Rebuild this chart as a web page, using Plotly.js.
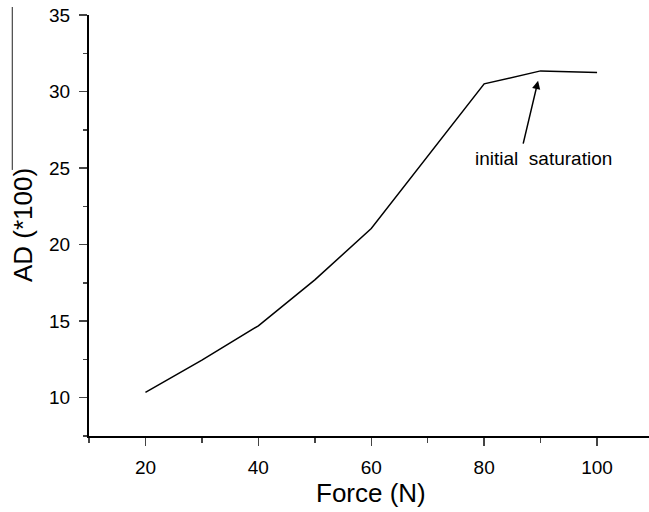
<!DOCTYPE html>
<html><head><meta charset="utf-8">
<script src="https://cdn.plot.ly/plotly-3.0.1.min.js"></script>
<style>html,body{margin:0;padding:0;background:#fff}</style>
</head><body>
<div id="chart" style="width:649px;height:512px"></div>
<script>
var force = [20, 30, 40, 50, 60, 70, 80, 90, 100];
var ad = [10.35, 12.45, 14.7, 17.7, 21.05, 25.8, 30.5, 31.35, 31.25];
var xTicks = [20, 40, 60, 80, 100];
var yTicks = [10, 15, 20, 25, 30, 35];
var noteText = 'initial  saturation';
var noteHead = [89.55, 30.7];
var noteTail = [86.85, 26.5];
var notePos = [90.56, 25.65];

var font = 'Liberation Sans, Arial, sans-serif';
var trace = {x: force, y: ad, mode: 'lines', type: 'scatter',
  line: {color: '#000', width: 1.5}, showlegend: false, hoverinfo: 'skip'};

var layout = {
  width: 649, height: 512,
  margin: {l: 89, r: 0, t: 15, b: 76},
  paper_bgcolor: '#fff', plot_bgcolor: '#fff',
  font: {family: font, color: '#000'},
  xaxis: {range: [10, 109.2], tickvals: xTicks, ticks: 'outside', ticklen: 8, tickwidth: 1.5,
    showgrid: false, zeroline: false, showline: true, linecolor: '#000', linewidth: 2,
    tickfont: {size: 19, family: font}, ticklabelstandoff: 5,
    minor: {dtick: 10, tick0: 0, ticks: 'outside', ticklen: 5, tickwidth: 1.5},
    fixedrange: true},
  yaxis: {range: [7.5, 35], tickvals: yTicks, ticks: 'outside', ticklen: 8, tickwidth: 1.5,
    showgrid: false, zeroline: false, showline: true, linecolor: '#000', linewidth: 2,
    tickfont: {size: 19, family: font}, ticklabelstandoff: 5,
    minor: {dtick: 2.5, tick0: 0, ticks: 'outside', ticklen: 4, tickwidth: 1.5},
    fixedrange: true},
  annotations: [
    {x: noteHead[0], y: noteHead[1], xref: 'x', yref: 'y', ax: noteTail[0], ay: noteTail[1],
     axref: 'x', ayref: 'y', text: '', showarrow: true, arrowhead: 2, arrowsize: 1.1, arrowwidth: 1.5, arrowcolor: '#000'},
    {x: notePos[0], y: notePos[1], xref: 'x', yref: 'y', text: noteText, showarrow: false,
     font: {size: 19, family: font, color: '#000'}},
    {x: 60, y: -0.136, xref: 'x', yref: 'paper', yanchor: 'middle', text: 'Force (N)', showarrow: false,
     font: {size: 26, family: font, color: '#000'}},
    {x: -0.118, y: 0.501, xref: 'paper', yref: 'paper', xanchor: 'center', yanchor: 'middle',
     text: 'AD (*100)', textangle: -90, showarrow: false,
     font: {size: 26, family: font, color: '#000'}}
  ],
  shapes: [
    {type: 'line', xref: 'paper', yref: 'paper', x0: -0.137, x1: -0.137, y0: 1.019, y1: 0.632,
     line: {color: '#222', width: 1}}
  ]
};
Plotly.newPlot('chart', [trace], layout, {displayModeBar: false, staticPlot: true});
</script>
</body></html>
